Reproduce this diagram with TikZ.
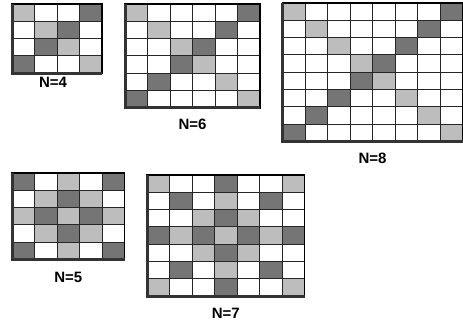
\documentclass[tikz,border=0pt]{standalone}
\usepackage{fontspec}
\setmainfont{Liberation Sans}
\usetikzlibrary{positioning}

\definecolor{cellL}{gray}{0.74}
\definecolor{cellD}{gray}{0.46}
\colorlet{cellW}{white}

\newcommand{\cw}{22.5}
\newcommand{\ch}{17.3}

% grid: x, y, size, name, rows
\newcommand{\cellgrid}[5]{%
  \begin{scope}[shift={(#1,#2)}]
    \foreach \row [count=\r from 0] in {#5} {
      \foreach \c [count=\k from 0] in \row
        \draw[cell, fill=cell\c] (\k*\cw, \r*\ch) rectangle ++(\cw, \ch);
    }
    \draw[frame] (0,0) rectangle (#3*\cw, #3*\ch);
    \draw[shadow] (0,0) -- (0, #3*\ch) -- (#3*\cw, #3*\ch);
    \coordinate (#4) at (#3*\cw/2, #3*\ch);
  \end{scope}
}

\begin{document}
\begin{tikzpicture}[
  x=1pt, y=-1pt,
  cell/.style={draw=black!85, line width=0.9pt},
  frame/.style={draw=black, line width=1.6pt},
  shadow/.style={draw=black!80, line width=3pt},
  lbl/.style={inner sep=0pt, font=\fontsize{15}{18}\selectfont\bfseries}
]
\useasboundingbox (0,0) rectangle (463,325);

\cellgrid{12}{4}{4}{g4}{{L,W,W,D},{W,L,D,W},{W,D,L,W},{D,W,W,L}}
\cellgrid{125}{4}{6}{g6}{{L,W,W,W,W,D},{W,L,W,W,D,W},{W,W,L,D,W,W},
  {W,W,D,L,W,W},{W,D,W,W,L,W},{D,W,W,W,W,L}}
\cellgrid{282.5}{3}{8}{g8}{{L,W,W,W,W,W,W,D},{W,L,W,W,W,W,D,W},
  {W,W,L,W,W,D,W,W},{W,W,W,L,D,W,W,W},{W,W,W,D,L,W,W,W},
  {W,W,D,W,W,L,W,W},{W,D,W,W,W,W,L,W},{D,W,W,W,W,W,W,L}}
\cellgrid{12}{173}{5}{g5}{{D,W,L,W,D},{W,L,D,L,W},{L,D,L,D,L},
  {W,L,D,L,W},{D,W,L,W,D}}
\cellgrid{147}{175}{7}{g7}{{L,W,W,D,W,W,L},{W,D,W,L,W,D,W},
  {W,W,L,D,L,W,W},{D,L,D,L,D,L,D},{W,W,L,D,L,W,W},
  {W,D,W,L,W,D,W},{L,W,W,D,W,W,L}}

\node[lbl, below=3.5pt of g4, xshift=-4pt] (n4) {N=4};
\node[lbl, below=11pt of g6] (n6) {N=6};
\node[lbl, below=11pt of g8] (n8) {N=8};
\node[lbl, below=12pt of g5] (n5) {N=5};
\node[lbl, below=11.5pt of g7] (n7) {N=7};
\end{tikzpicture}
\end{document}
